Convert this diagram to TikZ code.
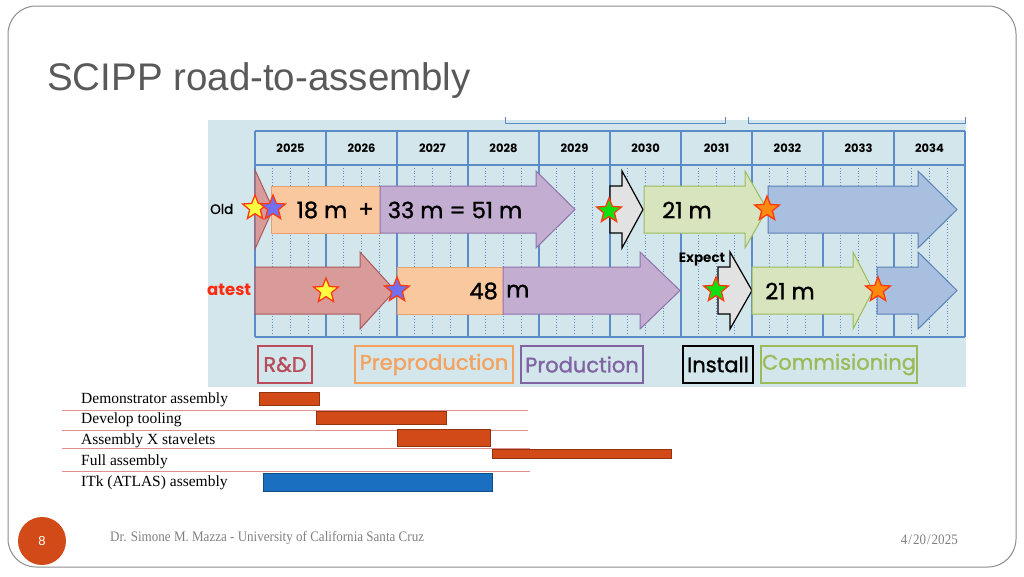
\documentclass[tikz,border=0pt]{standalone}
\usepackage{fontspec}
\setmainfont{Liberation Serif}
\newfontfamily\titlefont{Liberation Sans}
\newfontfamily\cg{Poppins}
\newfontfamily\cgb[FakeBold=1.3]{Poppins}
\newfontfamily\footfont[FakeStretch=0.9]{Liberation Serif}
\usetikzlibrary{shapes.geometric}
\definecolor{framegray}{HTML}{8C8C8C}
\definecolor{titlegray}{HTML}{595959}
\definecolor{chartbg}{HTML}{D3E6EC}
\definecolor{gridblue}{HTML}{5B8CC8}
\definecolor{rdfill}{HTML}{D99A9A}
\definecolor{rdline}{HTML}{A85A5E}
\definecolor{rdtext}{HTML}{B84C5A}
\definecolor{ppfill}{HTML}{FAC89E}
\definecolor{ppline}{HTML}{E8A070}
\definecolor{pptext}{HTML}{F4A25E}
\definecolor{prfill}{HTML}{C3AED2}
\definecolor{prline}{HTML}{8E72AC}
\definecolor{prtext}{HTML}{8064A2}
\definecolor{insfill}{HTML}{E2E2E2}
\definecolor{cofill}{HTML}{D7E4BD}
\definecolor{coline}{HTML}{9BBB59}
\definecolor{cotext}{HTML}{9BBB59}
\definecolor{blfill}{HTML}{A8BFDF}
\definecolor{blline}{HTML}{5A80B8}
\definecolor{starline}{HTML}{FF3A10}
\definecolor{stblue}{HTML}{7070F0}
\definecolor{stgreen}{HTML}{10E010}
\definecolor{storange}{HTML}{FF8A10}
\definecolor{stylw}{HTML}{FFFF40}
\definecolor{latestred}{HTML}{FF2A10}
\definecolor{barorange}{HTML}{D24A18}
\definecolor{barblue}{HTML}{1A6FC0}
\definecolor{sepline}{HTML}{E09090}
\definecolor{footgray}{HTML}{808080}
\newcommand{\blkarrow}[5]{%
  \draw[#5] (#1,#4-23.5) -- (#3,#4-23.5) -- (#3,#4-38.5) -- (#2,#4) --
    (#3,#4+38.5) -- (#3,#4+23.5) -- (#1,#4+23.5) -- cycle;}
\begin{document}
\begin{tikzpicture}[x=1pt,y=-1pt,
  gridline/.style={draw=gridblue, line width=1.3pt},
  dotline/.style={draw=gridblue, line width=0.8pt, dotted},
  year/.style={font=\cg\bfseries\fontsize{11.5}{12}\selectfont, inner sep=0pt},
  num/.style={font=\cgb\fontsize{22.5}{23}\selectfont, inner sep=0pt},
  rdar/.style={fill=rdfill, draw=rdline, line width=1pt},
  ppar/.style={fill=ppfill, draw=ppline, line width=1pt},
  prar/.style={fill=prfill, draw=prline, line width=1pt},
  insar/.style={fill=insfill, draw=black, line width=1.2pt},
  coar/.style={fill=cofill, draw=coline, line width=1pt},
  blar/.style={fill=blfill, draw=blline, line width=1pt},
  startag/.style={star, star points=5, star point ratio=2.3, minimum size=26pt, inner sep=0pt, draw=starline, line width=1.3pt},
  legbox/.style={draw, line width=1.6pt, minimum height=37pt, inner sep=0pt, font=\cgb\fontsize{21}{21}\selectfont},
  glabel/.style={anchor=base west, inner sep=0pt, font=\fontsize{15.5}{16}\selectfont},
  gbar/.style={fill=barorange, draw=barorange!70!black, line width=0.6pt},
  sep/.style={draw=sepline, line width=0.8pt}
]
\useasboundingbox (0,0) rectangle (1024,576);
% slide frame
\draw[draw=framegray, line width=1pt, rounded corners=28pt] (8,6) rectangle (1016,567);
% title
\node[anchor=base west, inner sep=0pt, text=titlegray, font=\titlefont\fontsize{38.5}{40}\selectfont] (title) at (47,90) {SCIPP road-to-assembly};

% chart background
\fill[chartbg] (208,120) rectangle (966,387);
% top brackets
\draw[gridline, line width=1pt] (505,117) -- (505,123) -- (725,123) -- (725,117);
\draw[gridline, line width=1pt] (748,117) -- (748,123) -- (965,123) -- (965,117);
% dotted quarter lines
\foreach \k in {0,...,9}
  \foreach \j in {1,2,3}
    \draw[dotline] (255+71*\k+17.75*\j,165) -- (255+71*\k+17.75*\j,337);
% solid grid
\foreach \k in {0,...,10}
  \draw[gridline] (255+71*\k,131) -- (255+71*\k,337);
\draw[gridline] (255,131) -- (965,131);
\draw[gridline] (255,165) -- (965,165);
\draw[gridline] (255,337) -- (965,337);
% years
\foreach \y [count=\i from 0] in {2025,2026,2027,2028,2029,2030,2031,2032,2033,2034}
  \node[year] (y\y) at (290.5+71*\i,148) {\y};

% row labels
\node[anchor=west, inner sep=0pt, font=\cgb\fontsize{13.5}{14}\selectfont] (old) at (210,209) {Old};
\node[anchor=west, inner sep=0pt, text=latestred, font=\cg\bfseries\fontsize{16.5}{17}\selectfont] (latest) at (207,290) {atest};

% Old row
\draw[rdar] (255,170) -- (273,209) -- (255,249) -- cycle;
\draw[ppar] (271,186) rectangle (380,233);
\blkarrow{380}{575}{536}{209.5}{prar}
\blkarrow{610}{643}{622}{209.5}{insar}
\blkarrow{644}{767}{745}{209.5}{coar}
\blkarrow{768}{957}{918}{209.5}{blar}
\node[num] (t18) at (322,210) {18 m};
\node[num] (tplus) at (366,210) {+};
\node[num] (t33) at (455,210) {33 m = 51 m};
\node[num] (t21a) at (687,210) {21 m};
\node[startag, fill=stylw] (s1) at (255,208) {};
\node[startag, fill=stblue] (s2) at (273,208) {};
\node[startag, fill=stgreen] (s3) at (609,211) {};
\node[startag, fill=storange] (s4) at (767,209) {};

% Latest row
\blkarrow{255}{395}{360}{290.5}{rdar}
\draw[ppar] (397,267) rectangle (503,314);
\blkarrow{503}{680}{640}{290.5}{prar}
\blkarrow{718}{752}{730}{290.5}{insar}
\blkarrow{752}{873}{853}{290.5}{coar}
\blkarrow{877}{957}{918}{290.5}{blar}
\node[num, anchor=east] (t48) at (498,291) {48};
\node[num, anchor=west] (tm) at (506,291) {m};
\node[num] (t21b) at (790,291) {21 m};
\node[anchor=base, inner sep=0pt, font=\cg\bfseries\fontsize{13.5}{14}\selectfont] (expect) at (702,262) {Expect};
\node[startag, fill=stylw] (s5) at (326,291) {};
\node[startag, fill=stblue] (s6) at (397,290) {};
\node[startag, fill=stgreen] (s7) at (716,290) {};
\node[startag, fill=storange] (s8) at (878,290) {};

% legend
\node[legbox, draw=rdtext, text=rdtext, minimum width=54pt] (lrd) at (285,364.5) {R\&D};
\node[legbox, draw=pptext, text=pptext, minimum width=158pt] (lpp) at (434,364.5) {Preproduction};
\node[legbox, draw=prtext, text=prtext, minimum width=122pt] (lpr) at (582,364.5) {Production};
\node[legbox, draw=black, text=black, minimum width=70pt] (lin) at (718,364.5) {Install};
\node[legbox, draw=cotext, text=cotext, minimum width=156pt] (lco) at (839,364.5) {Commisioning};

% gantt
\node[glabel] (g1) at (81,403) {Demonstrator assembly};
\node[glabel] (g2) at (81,423.5) {Develop tooling};
\node[glabel] (g3) at (81,444) {Assembly X stavelets};
\node[glabel] (g4) at (81,465) {Full assembly};
\node[glabel] (g5) at (81,486) {ITk (ATLAS) assembly};
\draw[sep] (62,410) -- (528,410);
\draw[sep] (62,430) -- (528,430);
\draw[sep] (62,448.5) -- (530,448.5);
\draw[sep] (62,471) -- (530,471);
\draw[gbar] (259,392) rectangle (319,405);
\draw[gbar] (316,411) rectangle (446,424);
\draw[gbar] (397,429.5) rectangle (490,446);
\draw[gbar] (492,449) rectangle (671,458);
\draw[fill=barblue, draw=barblue!70!black, line width=0.6pt] (263,473) rectangle (492,491);

% footer
\node[circle, fill=barorange, minimum size=48pt, inner sep=0pt, text=white, font=\titlefont\fontsize{13}{13}\selectfont] (pg) at (42,541) {8};
\node[anchor=base west, inner sep=0pt, text=footgray, font=\footfont\fontsize{14.5}{14}\selectfont] (auth) at (110,541) {Dr. Simone M. Mazza - University of California Santa Cruz};
\node[anchor=base east, inner sep=0pt, text=footgray, font=\footfont\fontsize{14.5}{14}\selectfont] (date) at (958,544) {4\kern1pt/\kern1pt20\kern1pt/\kern1pt2025};
\end{tikzpicture}
\end{document}
